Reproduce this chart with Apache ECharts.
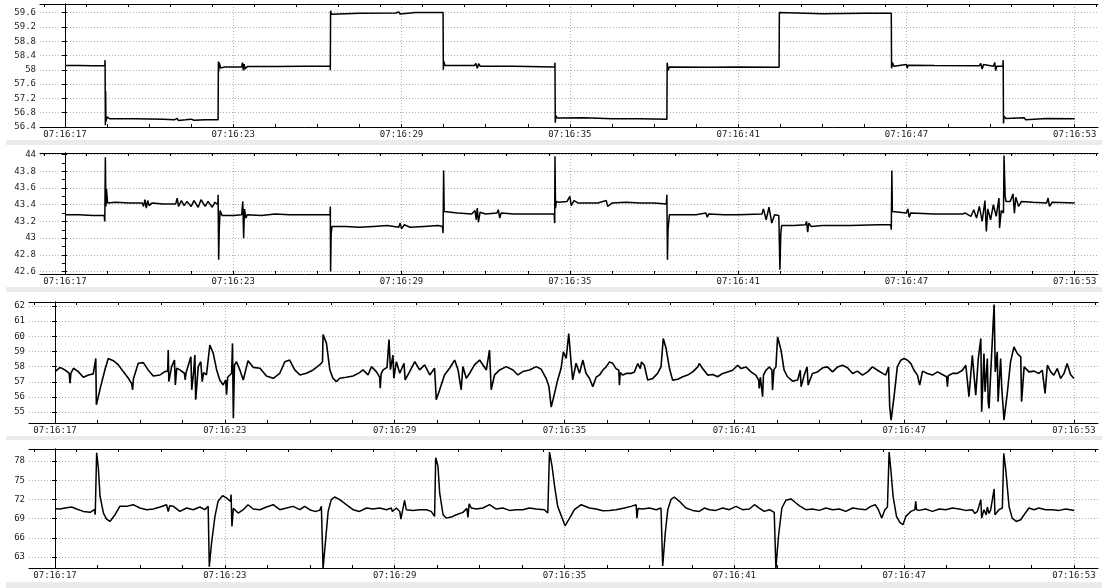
<!DOCTYPE html>
<html>
<head>
<meta charset="utf-8">
<script src="https://cdn.jsdelivr.net/npm/echarts@6.0.0/dist/echarts.min.js"></script>
<style>
    html, body { margin: 0; padding: 0; background: #fff; }
    #chart { width: 1102px; height: 588px; }
</style>
</head>
<body>
<div id="chart"></div>
<script>
// x 轴：相对 07:16:17 的秒数
var xLabelTicks = [0, 6, 12, 18, 24, 30, 36];

// y 轴刻度
var p1YTicks = [56.4, 56.8, 57.2, 57.6, 58, 58.4, 58.8, 59.2, 59.6];
var p2YTicks = [42.6, 42.8, 43, 43.2, 43.4, 43.6, 43.8, 44];
var p3YTicks = [55, 56, 57, 58, 59, 60, 61, 62];
var p4YTicks = [63, 66, 69, 72, 75, 78];

// 通道1 [秒, 值]
var p1Data = [[0,58.12],[0.5,58.12],[1.0,58.11],[1.42,58.11],[1.43,58.27],[1.44,56.45],[1.45,57.4],[1.46,56.55],[1.5,56.68],[1.6,56.63],[2.5,56.63],[3.5,56.62],[3.9,56.6],[4.0,56.64],[4.05,56.58],[4.1,56.63],[4.3,56.6],[4.5,56.62],[4.6,56.59],[5.0,56.6],[5.46,56.6],[5.47,58.23],[5.48,57.95],[5.5,58.2],[5.55,58.05],[5.7,58.08],[6.3,58.08],[6.33,58.2],[6.36,57.98],[6.39,58.16],[6.42,58.02],[6.5,58.09],[7.5,58.09],[8.5,58.1],[9.46,58.1],[9.46,57.99],[9.47,59.65],[9.5,59.55],[9.55,59.58],[10.5,59.58],[11.8,59.59],[11.9,59.62],[11.95,59.56],[12.0,59.6],[12.5,59.6],[13.48,59.6],[13.49,58.0],[13.5,58.25],[13.55,58.12],[14.6,58.12],[14.65,58.18],[14.7,58.04],[14.75,58.17],[14.8,58.1],[16,58.1],[17.46,58.08],[17.47,58.2],[17.48,56.52],[17.5,56.72],[17.55,56.65],[18.5,56.66],[19.5,56.63],[20.5,56.63],[21.46,56.62],[21.47,58.2],[21.5,57.98],[21.55,58.08],[23,58.07],[24,58.08],[25.46,58.07],[25.47,59.6],[25.5,59.55],[27,59.57],[28.5,59.58],[29.46,59.58],[29.47,58.04],[29.5,58.2],[29.55,58.1],[30.0,58.15],[30.03,58.04],[30.06,58.13],[31,58.12],[32.6,58.11],[32.65,58.18],[32.7,58.02],[32.75,58.15],[33.1,58.1],[33.15,58.2],[33.18,57.98],[33.22,58.1],[33.44,58.1],[33.45,58.27],[33.46,56.5],[33.48,56.7],[33.55,56.64],[34.2,56.66],[34.25,56.6],[35,56.64],[36,56.63]];

// 通道2
var p2Data = [[0,43.28],[0.5,43.28],[1.0,43.27],[1.4,43.27],[1.42,43.2],[1.44,43.97],[1.46,43.38],[1.48,43.59],[1.52,43.42],[1.8,43.43],[2.3,43.42],[2.75,43.42],[2.8,43.38],[2.85,43.46],[2.9,43.36],[2.95,43.45],[3.0,43.39],[3.1,43.42],[3.5,43.41],[3.95,43.41],[4.0,43.48],[4.05,43.38],[4.15,43.45],[4.25,43.39],[4.35,43.44],[4.5,43.38],[4.6,43.45],[4.75,43.37],[4.85,43.46],[5.0,43.38],[5.1,43.44],[5.25,43.37],[5.35,43.43],[5.45,43.4],[5.46,43.52],[5.48,42.74],[5.5,43.1],[5.53,43.33],[5.6,43.27],[6.0,43.27],[6.3,43.28],[6.34,43.44],[6.37,43.0],[6.4,43.35],[6.45,43.24],[6.5,43.28],[7.0,43.27],[7.5,43.29],[8.0,43.28],[8.5,43.28],[9.0,43.28],[9.45,43.28],[9.46,43.38],[9.47,42.6],[9.49,43.05],[9.52,43.14],[10.0,43.14],[10.5,43.13],[11.0,43.14],[11.5,43.15],[11.9,43.13],[11.95,43.18],[12.0,43.11],[12.1,43.16],[12.3,43.13],[12.8,43.14],[13.3,43.15],[13.46,43.14],[13.48,43.06],[13.5,43.81],[13.52,43.32],[13.55,43.3],[14.0,43.3],[14.5,43.29],[14.62,43.33],[14.66,43.22],[14.7,43.36],[14.74,43.19],[14.8,43.31],[15.0,43.29],[15.4,43.3],[15.45,43.34],[15.5,43.24],[15.55,43.3],[16.0,43.29],[17.0,43.29],[17.44,43.29],[17.46,43.18],[17.47,43.98],[17.49,43.36],[17.52,43.44],[17.6,43.43],[17.9,43.44],[18.0,43.5],[18.05,43.39],[18.15,43.45],[18.3,43.42],[19.0,43.42],[19.3,43.45],[19.35,43.38],[19.5,43.42],[20.0,43.43],[20.5,43.42],[21.0,43.42],[21.44,43.41],[21.46,43.52],[21.48,42.74],[21.5,43.1],[21.55,43.28],[22.0,43.28],[22.5,43.28],[22.85,43.3],[22.9,43.25],[22.95,43.29],[23.5,43.28],[24.0,43.28],[24.85,43.29],[24.9,43.35],[25.0,43.22],[25.1,43.37],[25.2,43.18],[25.3,43.28],[25.45,43.27],[25.47,43.25],[25.49,42.62],[25.52,43.05],[25.55,43.15],[26.0,43.15],[26.4,43.16],[26.44,43.2],[26.48,43.07],[26.52,43.18],[26.6,43.14],[27.0,43.15],[28.0,43.15],[29.0,43.16],[29.44,43.16],[29.46,43.1],[29.48,43.81],[29.5,43.32],[29.55,43.3],[30.0,43.3],[30.05,43.35],[30.1,43.25],[30.15,43.3],[31.0,43.29],[32.0,43.29],[32.1,43.3],[32.3,43.26],[32.4,43.34],[32.5,43.24],[32.6,43.38],[32.7,43.2],[32.8,43.45],[32.85,43.08],[32.9,43.35],[33.0,43.22],[33.1,43.4],[33.2,43.26],[33.3,43.48],[33.32,43.12],[33.38,43.33],[33.46,43.3],[33.48,43.99],[33.52,43.5],[33.55,43.44],[33.7,43.44],[33.8,43.53],[33.85,43.3],[33.9,43.49],[34.0,43.38],[34.1,43.44],[34.5,43.43],[35.0,43.42],[35.05,43.48],[35.1,43.38],[35.2,43.43],[36.0,43.42]];

// 通道3
var p3Data = [[0,57.67],[0.18,57.95],[0.35,57.78],[0.5,57.56],[0.53,56.9],[0.56,57.56],[0.65,57.89],[0.82,57.67],[1.0,57.3],[1.18,57.45],[1.35,57.52],[1.42,57.5],[1.44,58.54],[1.46,55.48],[1.53,56.03],[1.6,56.6],[1.65,56.47],[1.76,57.78],[1.88,58.54],[2.06,58.39],[2.24,58.11],[2.41,57.67],[2.59,57.23],[2.71,56.86],[2.74,56.47],[2.77,57.2],[2.82,57.3],[2.94,58.22],[3.12,58.26],[3.29,57.78],[3.47,57.38],[3.71,57.45],[3.88,57.67],[3.98,57.7],[4.0,59.09],[4.02,57.01],[4.12,58.0],[4.22,58.43],[4.25,56.79],[4.3,57.9],[4.41,57.78],[4.57,57.56],[4.6,57.12],[4.63,57.6],[4.8,58.65],[4.83,56.47],[4.9,57.7],[4.94,58.76],[4.97,55.81],[5.06,58.0],[5.15,58.32],[5.2,57.01],[5.25,57.6],[5.35,57.45],[5.47,59.42],[5.59,58.87],[5.71,57.78],[5.82,57.12],[5.94,56.79],[6.03,57.12],[6.06,56.14],[6.1,57.3],[6.24,57.56],[6.27,59.53],[6.3,54.6],[6.34,58.1],[6.41,58.32],[6.53,57.78],[6.65,57.12],[6.82,58.39],[7.0,57.95],[7.24,57.89],[7.47,57.38],[7.71,57.23],[7.94,57.56],[8.12,58.32],[8.29,58.43],[8.47,57.78],[8.65,57.45],[8.88,57.56],[9.12,57.78],[9.35,58.11],[9.45,58.32],[9.47,60.12],[9.59,59.53],[9.71,57.78],[9.82,57.23],[9.94,57.01],[10.06,57.23],[10.29,57.3],[10.53,57.38],[10.76,57.6],[10.88,57.78],[11.06,57.45],[11.18,58.0],[11.35,57.67],[11.47,57.3],[11.49,56.57],[11.52,57.5],[11.59,57.78],[11.73,57.95],[11.8,59.79],[11.85,57.8],[11.88,57.67],[11.94,58.76],[11.97,57.23],[12.06,58.32],[12.18,57.56],[12.33,58.22],[12.37,57.12],[12.53,57.67],[12.71,58.32],[12.88,57.78],[13.06,58.11],[13.24,57.45],[13.41,57.89],[13.47,55.81],[13.59,56.47],[13.76,57.45],[13.94,57.89],[14.12,58.43],[14.24,57.78],[14.35,56.47],[14.41,58.0],[14.53,57.23],[14.65,57.56],[14.82,58.11],[15.0,58.43],[15.12,58.11],[15.24,57.78],[15.35,59.09],[15.41,56.47],[15.53,57.45],[15.71,57.78],[15.94,58.0],[16.18,57.78],[16.35,57.45],[16.53,57.67],[16.76,57.78],[17.0,58.0],[17.18,57.82],[17.35,57.23],[17.45,56.68],[17.53,55.33],[17.65,56.25],[17.76,57.12],[17.88,57.89],[17.96,58.98],[18.06,58.54],[18.15,60.18],[18.24,58.11],[18.29,57.12],[18.41,58.22],[18.53,57.56],[18.65,58.43],[18.76,57.56],[18.88,57.23],[19.0,56.68],[19.12,57.3],[19.24,57.45],[19.35,57.76],[19.47,57.98],[19.59,58.31],[19.71,58.2],[19.82,57.87],[19.92,57.76],[19.94,56.78],[19.97,57.6],[20.06,57.44],[20.18,57.55],[20.35,57.55],[20.47,57.65],[20.59,58.2],[20.68,57.87],[20.72,58.31],[20.82,58.09],[20.94,57.11],[21.12,57.22],[21.29,57.55],[21.41,57.98],[21.49,59.85],[21.59,59.19],[21.71,57.87],[21.82,57.11],[22.0,57.17],[22.18,57.33],[22.35,57.44],[22.53,57.65],[22.71,57.98],[22.76,58.2],[22.88,57.87],[23.06,57.44],[23.24,57.48],[23.41,57.33],[23.59,57.55],[23.76,57.65],[23.94,57.76],[24.12,58.09],[24.24,57.87],[24.41,57.98],[24.59,57.65],[24.76,57.44],[24.86,57.11],[24.88,56.56],[24.92,57.3],[25.0,56.01],[25.03,57.44],[25.12,57.76],[25.24,57.98],[25.33,57.76],[25.35,56.45],[25.4,57.8],[25.47,57.98],[25.53,59.96],[25.65,59.08],[25.76,57.76],[25.88,57.33],[26.06,57.04],[26.24,57.11],[26.33,57.76],[26.36,56.67],[26.47,57.44],[26.57,57.98],[26.61,56.78],[26.76,57.55],[26.94,57.65],[27.12,57.92],[27.29,57.98],[27.47,57.65],[27.65,57.98],[27.82,58.09],[28.0,57.92],[28.18,57.55],[28.35,57.7],[28.53,57.44],[28.71,57.65],[28.88,57.98],[29.06,57.76],[29.24,57.55],[29.35,57.44],[29.45,57.98],[29.49,55.35],[29.54,54.47],[29.65,56.12],[29.76,57.98],[29.88,58.42],[30.0,58.53],[30.12,58.42],[30.24,58.2],[30.35,57.76],[30.47,57.44],[30.55,56.78],[30.65,57.7],[30.82,57.55],[31.0,57.44],[31.18,57.65],[31.35,57.48],[31.5,57.33],[31.53,56.67],[31.56,57.4],[31.71,57.55],[31.88,57.55],[32.06,57.76],[32.18,58.09],[32.29,56.01],[32.41,58.75],[32.53,56.12],[32.62,58.53],[32.71,59.85],[32.74,55.02],[32.82,58.86],[32.86,56.34],[32.94,58.53],[32.97,55.68],[33.0,55.24],[33.09,58.75],[33.18,62.09],[33.22,57.65],[33.29,58.97],[33.32,55.68],[33.41,58.53],[33.45,56.56],[33.53,54.47],[33.65,56.34],[33.76,58.31],[33.88,59.3],[34.0,58.86],[34.12,58.64],[34.15,55.68],[34.24,57.98],[34.41,57.65],[34.59,57.7],[34.76,57.55],[34.88,57.76],[34.98,56.23],[35.06,58.09],[35.18,57.65],[35.29,57.44],[35.41,57.87],[35.53,57.22],[35.65,57.55],[35.76,58.2],[35.88,57.48],[36.0,57.22]];

// 通道4
var p4Data = [[0,70.55],[0.18,70.5],[0.35,70.66],[0.59,70.82],[0.76,70.5],[1.0,70.13],[1.24,69.98],[1.39,70.4],[1.42,69.61],[1.47,79.32],[1.53,76.96],[1.59,72.5],[1.71,69.87],[1.82,68.93],[1.94,68.56],[2.12,69.61],[2.29,70.92],[2.53,70.92],[2.76,71.18],[3.0,70.66],[3.24,70.4],[3.47,70.5],[3.71,70.82],[3.94,71.18],[4.0,70.1],[4.05,71.0],[4.18,70.92],[4.41,70.13],[4.65,70.66],[4.88,70.4],[5.12,70.82],[5.29,70.4],[5.41,70.92],[5.45,61.48],[5.53,65.15],[5.65,69.35],[5.76,71.71],[5.92,72.6],[6.06,72.23],[6.2,71.71],[6.22,72.76],[6.25,67.77],[6.3,70.6],[6.35,70.4],[6.47,69.87],[6.65,70.4],[6.82,71.18],[7.0,70.5],[7.24,70.4],[7.47,70.82],[7.71,71.18],[7.94,70.4],[8.18,70.66],[8.41,70.92],[8.65,70.4],[8.82,70.92],[9.0,70.4],[9.18,70.13],[9.35,70.29],[9.41,70.92],[9.47,61.22],[9.56,65.68],[9.65,70.13],[9.76,71.97],[9.88,72.39],[10.06,71.97],[10.29,71.18],[10.53,70.4],[10.76,70.13],[11.0,70.66],[11.24,70.5],[11.47,70.66],[11.71,70.4],[11.88,70.66],[11.92,70.13],[12.06,70.66],[12.18,70.13],[12.22,68.93],[12.35,71.87],[12.41,70.4],[12.65,70.29],[12.88,70.4],[13.12,70.4],[13.29,70.13],[13.41,69.34],[13.45,78.53],[13.53,77.22],[13.59,73.02],[13.71,69.61],[13.82,69.08],[14.0,69.24],[14.18,69.61],[14.41,69.98],[14.55,70.6],[14.59,69.2],[14.63,71.3],[14.71,70.66],[14.88,70.5],[15.12,70.66],[15.35,71.18],[15.59,70.5],[15.82,70.66],[16.06,70.29],[16.29,70.4],[16.53,70.4],[16.76,70.66],[17.0,70.5],[17.29,70.4],[17.41,69.87],[17.47,79.42],[17.56,77.22],[17.65,74.07],[17.76,70.92],[17.94,68.82],[18.02,67.88],[18.18,69.08],[18.35,70.4],[18.59,71.18],[18.88,70.66],[19.12,70.5],[19.35,70.24],[19.59,70.29],[19.82,70.4],[20.12,70.66],[20.35,70.92],[20.53,71.18],[20.56,69.08],[20.6,70.6],[20.76,70.5],[21.0,70.66],[21.24,70.4],[21.41,70.66],[21.47,61.59],[21.56,66.73],[21.65,70.4],[21.76,71.97],[21.88,72.39],[22.06,71.71],[22.29,70.66],[22.53,70.29],[22.76,70.13],[22.94,70.66],[23.12,70.4],[23.35,70.29],[23.59,70.66],[23.82,70.4],[24.06,70.92],[24.29,70.4],[24.53,70.5],[24.71,71.18],[24.88,70.66],[25.06,70.13],[25.24,70.4],[25.41,69.98],[25.47,61.22],[25.56,66.2],[25.68,70.66],[25.82,71.87],[26.0,72.08],[26.18,71.45],[26.29,71.03],[26.53,70.4],[26.76,70.5],[27.0,70.29],[27.24,70.66],[27.47,70.4],[27.71,70.5],[27.94,70.13],[28.18,70.66],[28.41,70.5],[28.65,70.4],[28.82,70.92],[28.98,71.18],[29.09,70.4],[29.21,69.08],[29.32,70.4],[29.41,70.82],[29.47,79.42],[29.53,76.69],[29.61,72.5],[29.73,69.35],[29.85,68.4],[29.96,68.04],[30.06,69.35],[30.24,70.13],[30.38,70.4],[30.41,71.71],[30.44,70.4],[30.53,70.29],[30.76,70.5],[31.0,70.13],[31.24,70.5],[31.47,70.4],[31.71,70.66],[31.94,70.5],[32.18,70.29],[32.41,70.4],[32.5,69.8],[32.59,70.13],[32.71,71.97],[32.74,69.08],[32.82,70.4],[32.9,69.6],[32.94,70.82],[33.0,69.8],[33.06,70.4],[33.18,73.65],[33.21,69.61],[33.35,70.4],[33.47,70.66],[33.52,79.21],[33.59,76.69],[33.71,70.82],[33.82,69.08],[33.96,68.56],[34.12,68.82],[34.24,69.61],[34.41,70.66],[34.59,70.4],[34.76,70.66],[35.0,70.4],[35.24,70.4],[35.47,70.29],[35.71,70.5],[36.01,70.29]];

var chart = echarts.init(document.getElementById('chart'));

// 各面板位置与坐标范围
var panels = [
    { top: 4,   height: 123, left: 40, xMin: -0.89, xMax: 36.83, yMin: 56.4,  yMax: 59.84, yTicks: p1YTicks, rStep: 0.4, data: p1Data, lw: 1.5 },
    { top: 153, height: 121, left: 40, xMin: -0.89, xMax: 36.83, yMin: 42.57, yMax: 44.02, yTicks: p2YTicks, rStep: 0.1, data: p2Data, lw: 1.5 },
    { top: 302, height: 121, left: 29, xMin: -0.92, xMax: 36.85, yMin: 54.28, yMax: 62.26, yTicks: p3YTicks, rStep: 1,   data: p3Data, lw: 1.6 },
    { top: 449, height: 119, left: 29, xMin: -0.92, xMax: 36.85, yMin: 61.27, yMax: 79.9,  yTicks: p4YTicks, rStep: 3,   data: p4Data, lw: 1.5 }
];

var labelFont = { fontFamily: 'DejaVu Sans Mono', fontSize: 9, color: '#222' };

function fmtTime(t) {
    var s = 7 * 3600 + 16 * 60 + 17 + Math.round(t);
    var h = Math.floor(s / 3600), m = Math.floor(s / 60) % 60, sec = s % 60;
    function p(n) { return n < 10 ? '0' + n : '' + n; }
    return p(h) + ':' + p(m) + ':' + p(sec);
}

// 小刻度位置
function stepList(a, b, d) {
    var r = [];
    for (var v = a; v <= b + 1e-9; v += d) r.push(Math.round(v * 1000) / 1000);
    return r;
}

var grids = [], xAxes = [], yAxes = [], series = [];
for (var i = 0; i < panels.length; i++) {
    var p = panels[i];
    grids.push({ left: p.left, right: 4, top: p.top, height: p.height, containLabel: false });

    // 主 x 轴：标签 + 网格线
    xAxes.push({
        type: 'value', gridIndex: i, position: 'bottom', min: p.xMin, max: p.xMax,
        axisLine: { show: true, lineStyle: { color: '#000', width: 1 } },
        axisTick: { show: false, customValues: xLabelTicks },
        axisLabel: Object.assign({ customValues: xLabelTicks, formatter: fmtTime, margin: 3 }, labelFont),
        splitLine: { show: true, lineStyle: { type: [1, 2], color: '#b0b0b0', width: 1 } }
    });
    // 底部小刻度
    xAxes.push({
        type: 'value', gridIndex: i, position: 'bottom', min: p.xMin, max: p.xMax,
        axisLine: { show: false },
        axisTick: { show: true, inside: true, length: 3, customValues: stepList(0, 36, 1.5), lineStyle: { color: '#000' } },
        axisLabel: { show: false },
        splitLine: { show: false }
    });
    // 顶部边框
    xAxes.push({
        type: 'value', gridIndex: i, position: 'top', min: p.xMin, max: p.xMax,
        axisLine: { show: true, lineStyle: { color: '#000', width: 1 } },
        axisTick: { show: true, inside: true, length: 3, customValues: stepList(-0.75, p.xMax, 1.5), lineStyle: { color: '#000' } },
        axisLabel: { show: false },
        splitLine: { show: false }
    });

    yAxes.push({
        type: 'value', gridIndex: i, position: 'left', min: p.yMin, max: p.yMax,
        axisLine: { show: true, lineStyle: { color: '#000', width: 1 } },
        axisTick: { show: true, inside: true, length: 2, customValues: p.yTicks, lineStyle: { color: '#000' } },
        axisLabel: Object.assign({
            customValues: p.yTicks, margin: 4,
            formatter: function (v) { return String(Math.round(v * 100) / 100); }
        }, labelFont),
        splitLine: { show: true, lineStyle: { type: [1, 2], color: '#b0b0b0', width: 1 } }
    });
    yAxes.push({
        type: 'value', gridIndex: i, position: 'right', min: p.yMin, max: p.yMax,
        axisLine: { show: true, lineStyle: { color: '#000', width: 1 } },
        axisTick: { show: true, inside: true, length: 3, customValues: stepList(p.yTicks[0], p.yMax, p.rStep), lineStyle: { color: '#000' } },
        axisLabel: { show: false },
        splitLine: { show: false }
    });

    series.push({
        type: 'line', xAxisIndex: i * 3, yAxisIndex: i * 2,
        data: p.data, showSymbol: false, symbol: 'none',
        lineStyle: { color: '#000', width: p.lw },
        animation: false
    });
}

// 面板之间的浅灰分隔条
var bands = [[140, 5], [287, 5], [436, 4], [582, 6]];
var graphics = [];
for (var j = 0; j < bands.length; j++) {
    graphics.push({
        type: 'rect', left: 6, top: bands[j][0], silent: true,
        shape: { width: 1096, height: bands[j][1] },
        style: { fill: '#ebebeb' }
    });
}

chart.setOption({
    backgroundColor: '#fff',
    animation: false,
    grid: grids,
    xAxis: xAxes,
    yAxis: yAxes,
    series: series,
    graphic: graphics
});
</script>
</body>
</html>
